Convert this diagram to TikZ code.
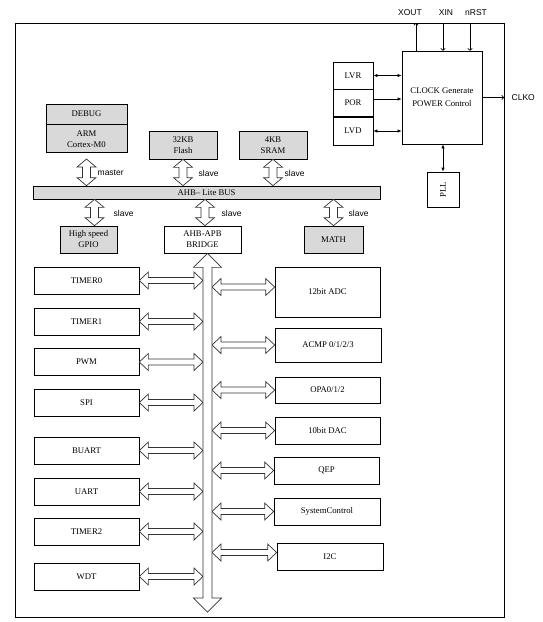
\documentclass[tikz,border=0pt]{standalone}
\usepackage{fontspec}
\setmainfont{Liberation Serif}
\setsansfont{Liberation Sans}
\usetikzlibrary{calc,arrows.meta}

% hollow double arrow, left to right
\newcommand{\hollowh}[2]{%
	\draw[hollow] let \p1=(#1), \p2=(#2) in
		(\x1,\y1) -- (\x1+9pt,\y1+8.5pt) -- (\x1+9pt,\y1+3pt) -- (\x2-9pt,\y1+3pt) -- (\x2-9pt,\y1+8.5pt) -- (\x2,\y1)
		-- (\x2-9pt,\y1-8.5pt) -- (\x2-9pt,\y1-3pt) -- (\x1+9pt,\y1-3pt) -- (\x1+9pt,\y1-8.5pt) -- cycle;}
% hollow double arrow, top to bottom: shaft, head, head length
\newcommand{\hollowv}[5]{%
	\draw[hollow] let \p1=(#1), \p2=(#2) in
		(\x1,\y1) -- (\x1+#4,\y1-#5) -- (\x1+#3,\y1-#5) -- (\x1+#3,\y2+#5) -- (\x1+#4,\y2+#5) -- (\x1,\y2)
		-- (\x1-#4,\y2+#5) -- (\x1-#3,\y2+#5) -- (\x1-#3,\y1-#5) -- (\x1-#4,\y1-#5) -- cycle;}

\begin{document}
\begin{tikzpicture}[x=1pt, y=-1pt, line width=0.7pt, color=black,
	box/.style={draw, fill=white, align=center, inner sep=0pt, font=\fontsize{8.7}{11}\selectfont},
	graybox/.style={box, fill=black!15},
	lbl/.style={font=\sffamily\fontsize{8.5}{10}\selectfont},
	hollow/.style={draw=black!80, fill=white, line join=miter},
	sig/.style={-{Latex[length=4pt,width=3.5pt]}},
	dsig/.style={{Latex[length=4pt,width=3.5pt]}-{Latex[length=4pt,width=3.5pt]}},
	pin/.style={-{To[length=2.5pt,width=5pt]}}]
		\useasboundingbox (0,0) rectangle (542,622);
		\draw[line width=0.8pt] (15,23) rectangle (504,617);
		
		% core and memories
		\node[graybox, minimum width=81, minimum height=20] (debug) at (86.5,114) {DEBUG};
		\node[graybox, minimum width=81, minimum height=28, anchor=north] (arm) at (debug.south) {ARM\\Cortex-M0};
		\node[graybox, minimum width=68, minimum height=28] (flash) at (183,145) {32KB\\Flash};
		\node[graybox, minimum width=68, minimum height=28] (sram) at (273,145) {4KB\\SRAM};
		\node[graybox, minimum width=347, minimum height=13] (ahb) at (206.5,192.5) {AHB– Lite BUS};
		\node[graybox, minimum width=57, minimum height=27] (gpio) at (88.5,239.5) {High speed\\GPIO};
		\node[box, minimum width=77, minimum height=27] (bridge) at (202.5,239.5) {AHB-APB\\BRIDGE};
		\node[graybox, minimum width=59, minimum height=27] (math) at (333.5,239.5) {MATH};
		
		% clock and power
		\node[box, minimum width=80, minimum height=93, font=\fontsize{8.7}{13}\selectfont] (clock) at (442,97.5) {CLOCK Generate\\POWER Control};
		\node[box, minimum width=40, minimum height=27] (lvr) at (353,75.5) {LVR};
		\node[box, minimum width=40, minimum height=28] (por) at (353,103) {POR};
		\node[box, minimum width=40, minimum height=28] (lvd) at (353,131) {LVD};
		\draw[line width=1.6pt] (lvd.north west) -- (lvd.north east);
		\node[box, minimum width=32, minimum height=35] (pll) at (443,189.5) {\rotatebox{90}{PLL}};
		
		\draw[dsig] (lvr.east) -- (lvr.east -| clock.west);
		\draw[sig] ([yshift=4]por.east) -- ([yshift=4]por.east -| clock.west);
		\draw[dsig] (lvd.east) -- (lvd.east -| clock.west);
		\draw[dsig] (clock.south -| pll.north) -- (pll.north);
		
		\coordinate (xout) at (416,23);
		\coordinate (xin) at (443,23);
		\coordinate (nrst) at (470,23);
		\coordinate (clko) at (504,97.5);
		\draw[pin] (clock.north -| xout) -- (xout);
		\draw[pin] (xin) -- (xin |- clock.north);
		\draw[pin] (nrst) -- (nrst |- clock.north);
		\draw[pin] (clock.east) -- (clko);
		\node[lbl] (xoutlbl) at (410,13) {XOUT};
		\node[lbl] (xinlbl) at (446,13) {XIN};
		\node[lbl] (nrstlbl) at (476,13) {nRST};
		\node[lbl, anchor=west] (clkolbl) at (508,97.5) {CLKO};
		
		% AHB connections
		\hollowv{[yshift=-6]arm.south}{arm.south |- ahb.north}{4pt}{9.5pt}{8pt}
		\hollowv{flash.south}{flash.south |- ahb.north}{4pt}{9.5pt}{8pt}
		\hollowv{sram.south}{sram.south |- ahb.north}{4pt}{9.5pt}{8pt}
		\coordinate (g) at ([xshift=6]gpio.north);
		\hollowv{ahb.south -| g}{g}{4pt}{9.5pt}{8pt}
		\coordinate (b) at ([xshift=2.5]bridge.north);
		\hollowv{ahb.south -| b}{b}{4pt}{9.5pt}{8pt}
		\hollowv{ahb.south -| math.north}{math.north}{4pt}{9.5pt}{8pt}
		
		\node[lbl, anchor=west] (masterlbl) at (94,173) {master};
		\node[lbl, anchor=west] (flashlbl) at (195,173) {slave};
		\node[lbl, anchor=west] (sramlbl) at (281,173) {slave};
		\node[lbl, anchor=west] (gpiolbl) at (110,213) {slave};
		\node[lbl, anchor=west] (bridgelbl) at (218,213) {slave};
		\node[lbl, anchor=west] (mathlbl) at (345,213) {slave};
		
		% APB peripherals
		\node[box, minimum width=105, minimum height=27] (timer0) at (86.5,280.5) {TIMER0};
		\node[box, minimum width=105, minimum height=27] (timer1) at (86.5,321.5) {TIMER1};
		\node[box, minimum width=105, minimum height=27] (pwm) at (86.5,362) {PWM};
		\node[box, minimum width=105, minimum height=27] (spi) at (86.5,402.5) {SPI};
		\node[box, minimum width=105, minimum height=27] (buart) at (86.5,450.5) {BUART};
		\node[box, minimum width=105, minimum height=27] (uart) at (86.5,491.5) {UART};
		\node[box, minimum width=105, minimum height=27] (timer2) at (86.5,531.5) {TIMER2};
		\node[box, minimum width=105, minimum height=27] (wdt) at (86.5,576.5) {WDT};
		
		\node[box, minimum width=105, minimum height=50] (adc) at (327.5,292) {12bit ADC};
		\node[box, minimum width=106, minimum height=34] (acmp) at (328,345) {ACMP 0/1/2/3};
		\node[box, minimum width=105, minimum height=26] (opa) at (327.5,390) {OPA0/1/2};
		\node[box, minimum width=105, minimum height=27] (dac) at (327.5,430.5) {10bit DAC};
		\node[box, minimum width=105, minimum height=27] (qep) at (326.5,470.5) {QEP};
		\node[box, minimum width=106, minimum height=27] (sysctl) at (327,511.5) {SystemControl};
		\node[box, minimum width=106, minimum height=27] (i2c) at (330,556.5) {I2C};
		
		\coordinate (apbtop) at ([xshift=5]bridge.south);
		\coordinate (apbend) at (apbtop |- 0,612);
		\coordinate (apbw) at ([xshift=-4.5]apbtop);
		\coordinate (apbe) at ([xshift=4.5]apbtop);
		\coordinate (adcin) at ([yshift=5]adc.west);
		\coordinate (i2cin) at ([yshift=4]i2c.west);
		
		\hollowh{timer0.east}{timer0.east -| apbw}
		\hollowh{timer1.east}{timer1.east -| apbw}
		\hollowh{pwm.east}{pwm.east -| apbw}
		\hollowh{spi.east}{spi.east -| apbw}
		\hollowh{buart.east}{buart.east -| apbw}
		\hollowh{uart.east}{uart.east -| apbw}
		\hollowh{timer2.east}{timer2.east -| apbw}
		\hollowh{wdt.east}{wdt.east -| apbw}
		
		\hollowh{adcin -| apbe}{adcin}
		\hollowh{acmp.west -| apbe}{acmp.west}
		\hollowh{opa.west -| apbe}{opa.west}
		\hollowh{dac.west -| apbe}{dac.west}
		\hollowh{qep.west -| apbe}{qep.west}
		\hollowh{sysctl.west -| apbe}{sysctl.west}
		\hollowh{i2cin -| apbe}{i2cin}
		
		\hollowv{apbtop}{apbend}{4.5pt}{14pt}{14pt}
	\end{tikzpicture}
\end{document}
